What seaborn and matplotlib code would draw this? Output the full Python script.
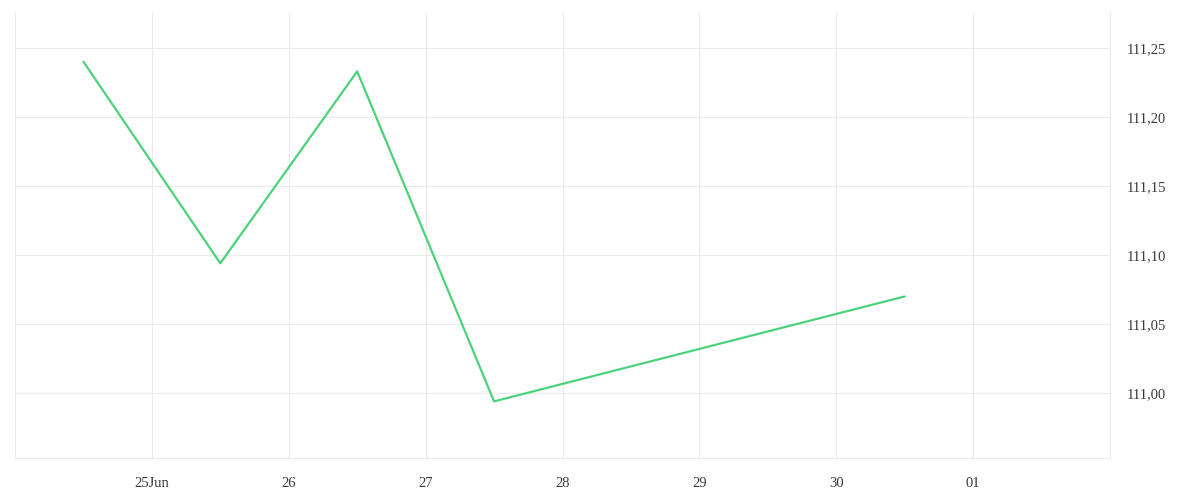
import pandas as pd
import matplotlib.pyplot as plt
import matplotlib.ticker as mticker
import seaborn as sns

# --- data ---
dates = ["2024-06-24 12:00", "2024-06-25 12:00", "2024-06-26 12:00",
         "2024-06-27 12:00", "2024-06-30 12:00"]
rates = [111.240, 111.094, 111.233, 110.994, 111.070]

tick_days = pd.date_range("2024-06-24", "2024-07-02", freq="D")
tick_labels = ["", "25Jun", "26", "27", "28", "29", "30", "01", ""]
y_ticks = [111.00, 111.05, 111.10, 111.15, 111.20, 111.25]

df = pd.DataFrame({"date": pd.to_datetime(dates), "rate": rates})

sns.set_theme(style="white")
plt.rcParams["font.family"] = ["Liberation Serif", "DejaVu Serif"]

grid_col = "#ebebeb"
text_col = "#3a3a3a"

fig = plt.figure(figsize=(12, 5), dpi=100)
ax = fig.add_axes([0.0125, 0.084, 0.9125, 0.892])

sns.lineplot(data=df, x="date", y="rate", color="#4cd27a", linewidth=1.6, ax=ax)

ax.set_xlim(tick_days[0], tick_days[-1])
ax.set_ylim(110.953, 111.276)

ax.set_xticks(tick_days)
ax.set_xticklabels(tick_labels)
ax.set_yticks(y_ticks)
ax.yaxis.set_major_formatter(mticker.FuncFormatter(lambda v, p: f"{v:.2f}".replace(".", ",")))
ax.yaxis.tick_right()

ax.grid(True, color=grid_col, linewidth=0.8)
ax.tick_params(axis="x", length=7.5, width=0.8, color=grid_col, pad=6,
               labelsize=10.5, labelcolor=text_col)
ax.tick_params(axis="y", length=0, pad=12, labelsize=10.5, labelcolor=text_col)

for side in ["top", "left"]:
    ax.spines[side].set_visible(False)
for side in ["bottom", "right"]:
    ax.spines[side].set_color(grid_col)
    ax.spines[side].set_linewidth(0.8)

ax.set_xlabel("")
ax.set_ylabel("")

plt.savefig("out.png", dpi=100)
